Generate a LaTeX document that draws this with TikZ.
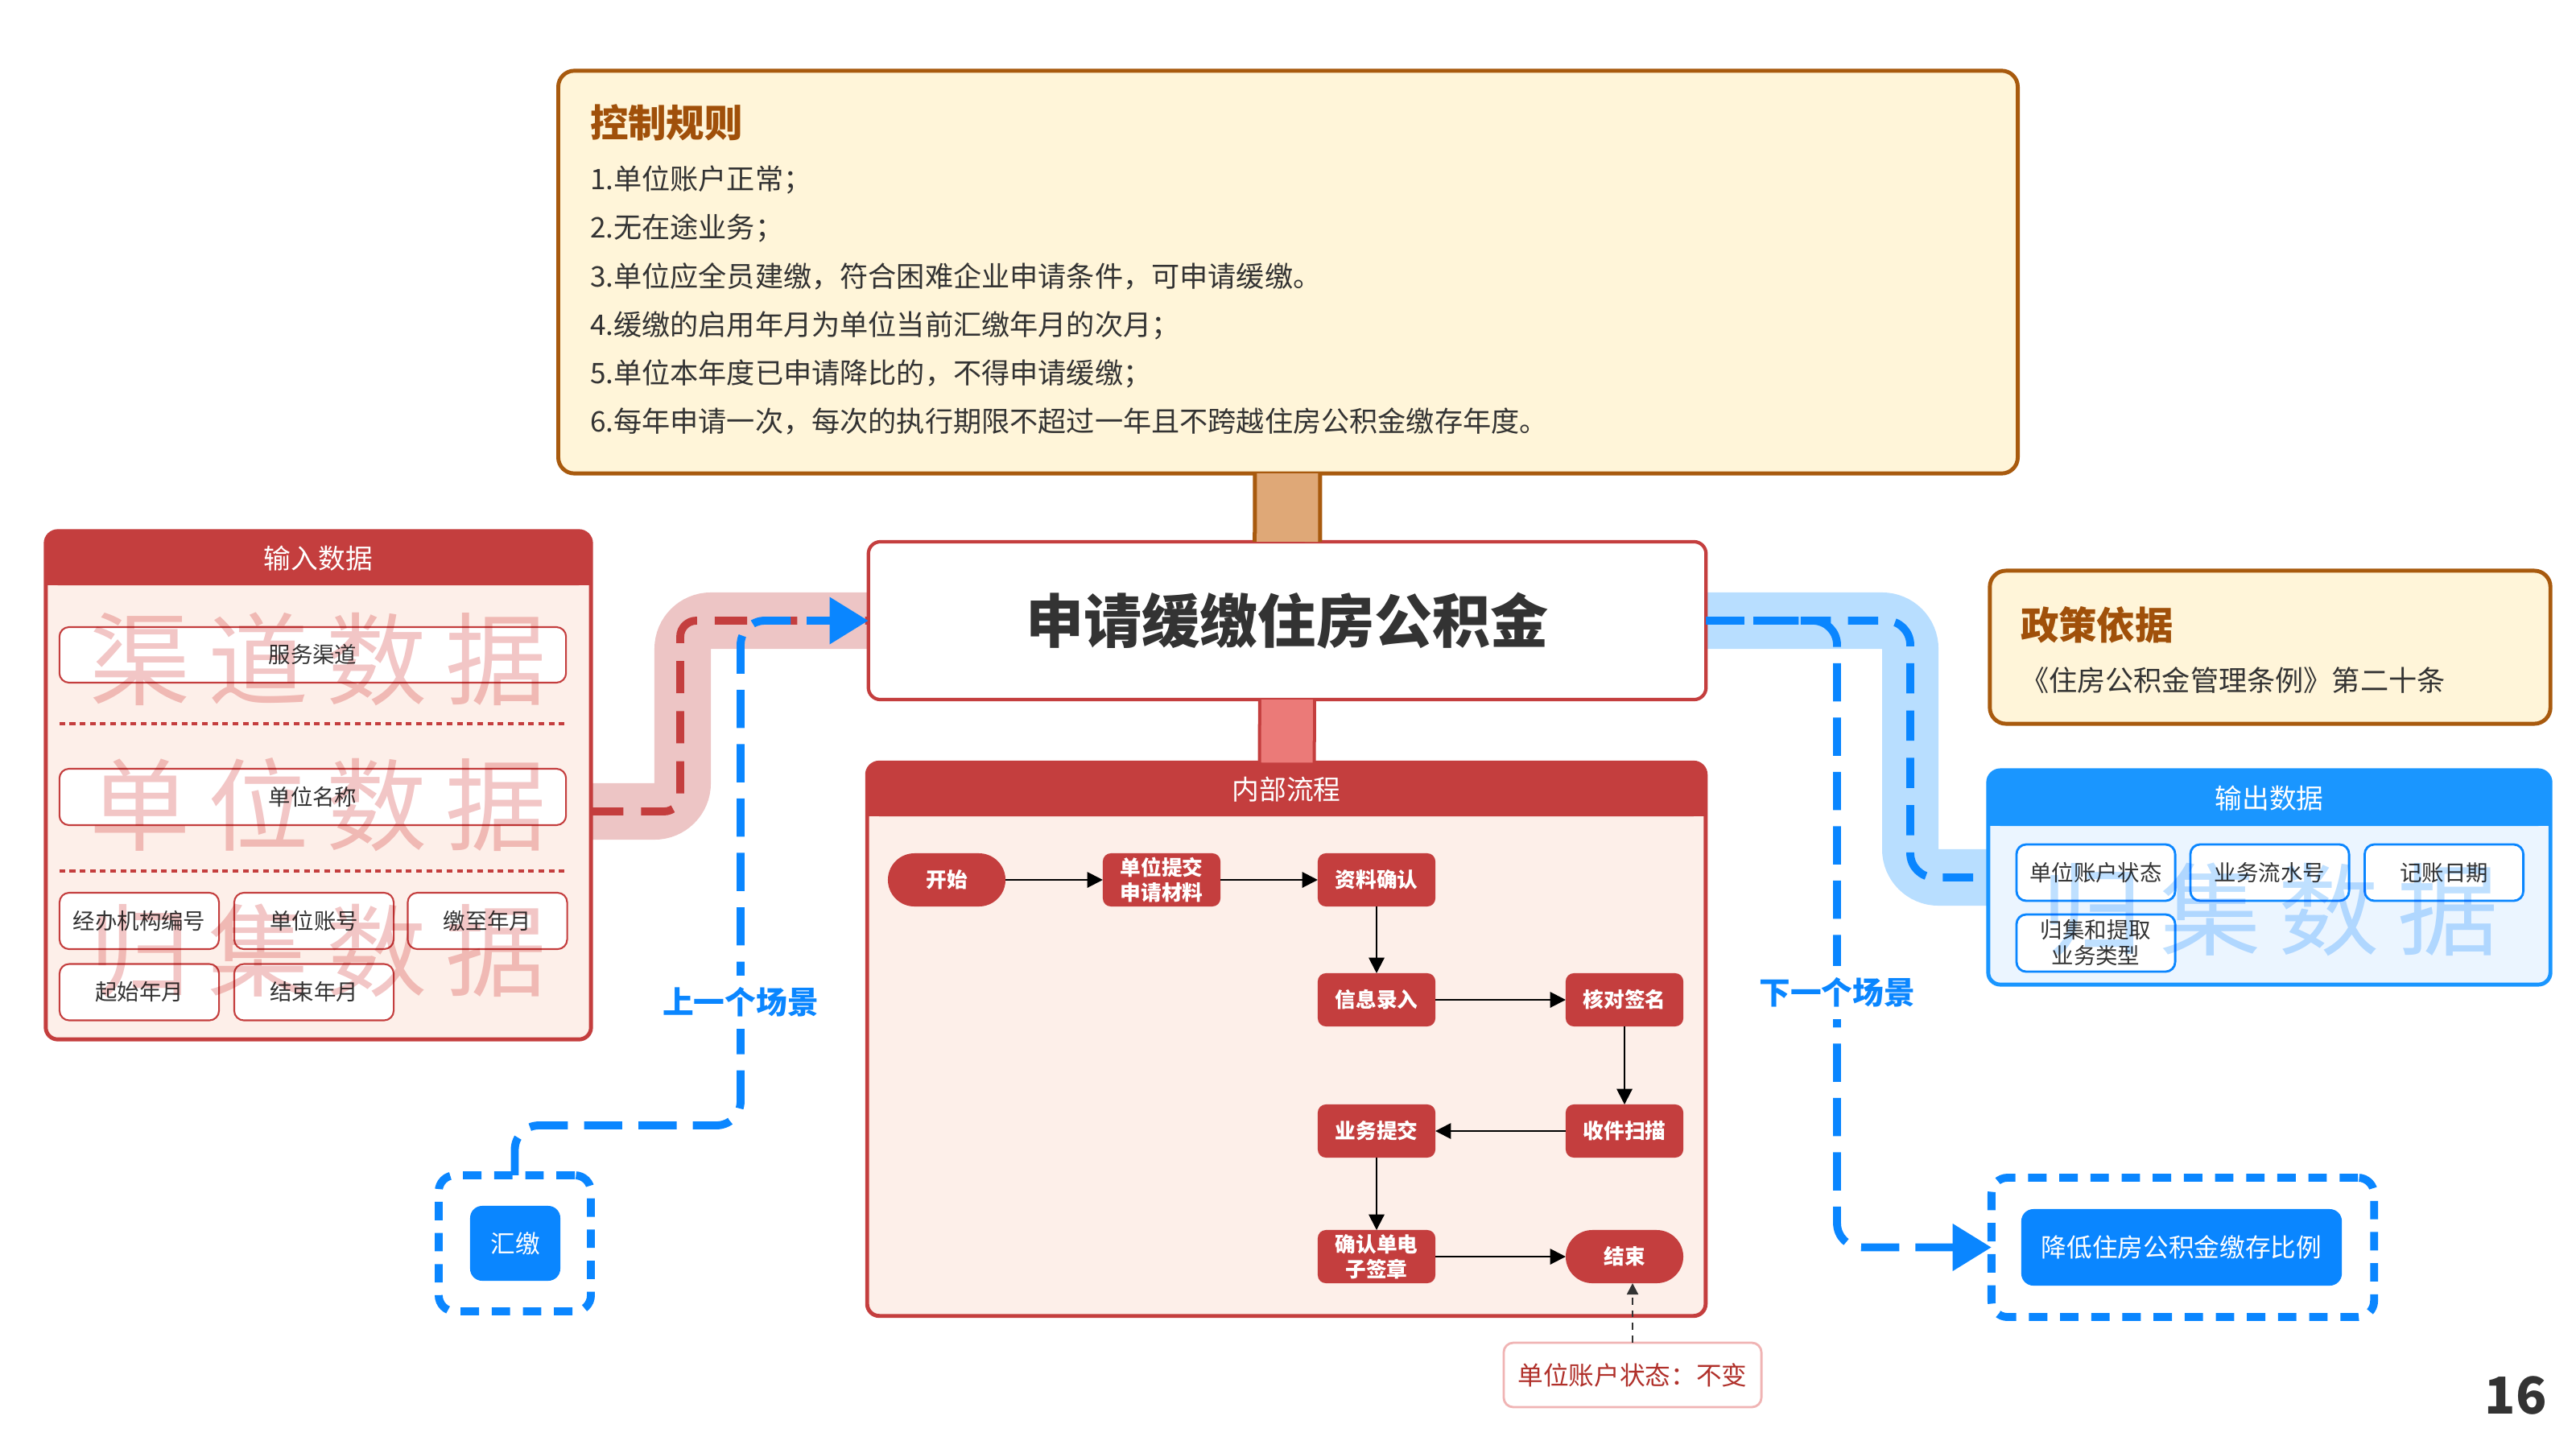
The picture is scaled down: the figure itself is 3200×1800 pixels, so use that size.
\documentclass[tikz,border=0pt]{standalone}
\usepackage{fontspec}
\setmainfont{Noto Sans CJK SC}
\usetikzlibrary{arrows.meta}
\pgfdeclarelayer{background}
\pgfsetlayers{background,main}
\definecolor{cred}{HTML}{C43E3E}
\definecolor{cpink}{HTML}{FDEFE9}
\definecolor{cband}{HTML}{EDC5C5}
\definecolor{cmark}{HTML}{F2C6C6}
\definecolor{cyel}{HTML}{FFF5D9}
\definecolor{cbrown}{HTML}{A85A0E}
\definecolor{ctitle}{HTML}{A0500A}
\definecolor{ctan}{HTML}{DFA877}
\definecolor{clink}{HTML}{EB7A78}
\definecolor{cblue}{HTML}{0A86FF}
\definecolor{chead}{HTML}{1A96FF}
\definecolor{cbband}{HTML}{B8DEFF}
\definecolor{cbbody}{HTML}{EBF5FF}
\definecolor{cbmark}{HTML}{BFE0FF}
\definecolor{cdark}{HTML}{333333}
\definecolor{cnote}{HTML}{B0302A}
\definecolor{cnoteline}{HTML}{F0B4B4}
\begin{document}
\begin{tikzpicture}[x=0.01cm,y=-0.01cm,>={Triangle[length=5.5pt,width=5.5pt]},line join=round,
  every node/.style={inner sep=0pt,outer sep=0pt},
  framebox/.style={draw=cred,line width=1.4pt,fill=cpink,rounded corners=0.15cm},
  headtext/.style={text=white,font=\fontsize{9.6}{11}\selectfont},
  databox/.style={draw=cred,fill=white,line width=0.6pt,rounded corners=0.12cm,text=cdark,
    minimum width=1.98cm,minimum height=0.70cm,font=\fontsize{7.8}{9}\selectfont},
  outbox/.style={databox,draw=cblue,line width=0.8pt,minimum width=1.97cm,align=center,
    font=\fontsize{7.8}{9.1}\selectfont},
  flowstep/.style={fill=cred,text=white,rounded corners=0.1cm,minimum width=1.46cm,
    minimum height=0.66cm,align=center,font=\fontsize{7.3}{8.7}\selectfont\bfseries},
  flowend/.style={flowstep,rounded corners=0.33cm},
  watermark/.style={text=cmark,font=\fontsize{35.6}{40}\selectfont},
  yellowbox/.style={draw=cbrown,line width=1.4pt,fill=cyel,rounded corners=0.2cm},
  boldtitle/.style={anchor=west,text=ctitle,font=\fontsize{13.5}{16}\selectfont\bfseries},
  scenedash/.style={cblue,line width=2.8pt,dash pattern=on 13.5pt off 5.7pt,rounded corners=0.3cm},
  scenebox/.style={draw=cblue,line width=2.8pt,dash pattern=on 6.5pt off 4.5pt,rounded corners=0.2cm},
  scenenode/.style={fill=cblue,text=white,rounded corners=0.15cm},
  scenelabel/.style={fill=white,inner sep=0.15cm,text=cblue,font=\fontsize{11}{13}\selectfont\bfseries},
  bigtip/.style={-{Triangle[length=13.7pt,width=16pt]}},
]
\useasboundingbox (0,0) rectangle (3200,1800);
%% control rules
\node (rule_box) at (1600,338) [yellowbox,minimum width=18.12cm,minimum height=5.00cm] {};
\node (rule_title) at (733,152) [boldtitle] {控制规则};
\node (rule_text) at (733,373) [anchor=west,align=left,text=cdark,font=\fontsize{10}{17.07}\selectfont]
  {1.单位账户正常；\\2.无在途业务；\\3.单位应全员建缴，符合困难企业申请条件，可申请缓缴。\\4.缓缴的启用年月为单位当前汇缴年月的次月；\\5.单位本年度已申请降比的，不得申请缓缴；\\6.每年申请一次，每次的执行期限不超过一年且不跨越住房公积金缴存年度。};
%% scene
\node (apply_box) at (1599,771) [draw=cred,line width=1.2pt,fill=white,rounded corners=0.15cm,
  minimum width=10.40cm,minimum height=1.96cm,text=cdark,font=\fontsize{20.5}{24}\selectfont\bfseries] {申请缓缴住房公积金};
\draw [cbrown,line width=0.86cm] (rule_box) -- (apply_box);
\draw [ctan,line width=0.76cm] (rule_box) -- (apply_box);
%% internal flow
\node (flow_box) at (1598,1291) [framebox,minimum width=10.41cm,minimum height=6.87cm] {};
\fill [cred,rounded corners=0.15cm] (flow_box.north west) rectangle (flow_box.east |- 0,1014);
\fill [cred] (flow_box.west |- 0,990) rectangle (flow_box.east |- 0,1014);
\node (flow_title) at (1598,981) [headtext] {内部流程};
\draw [cred,line width=0.72cm] (apply_box) -- (flow_box);
\draw [clink,line width=0.64cm] (apply_box) -- (flow_box);
\node (step_start) at (1176,1093) [flowend] {开始};
\node (step_submit) at (1443,1093) [flowstep] {单位提交\\申请材料};
\node (step_check) at (1710,1093) [flowstep] {资料确认};
\node (step_entry) at (1710,1242) [flowstep] {信息录入};
\node (step_sign) at (2018,1242) [flowstep] {核对签名};
\node (step_scan) at (2018,1405) [flowstep] {收件扫描};
\node (step_commit) at (1710,1405) [flowstep] {业务提交};
\node (step_seal) at (1710,1561) [flowstep] {确认单电\\子签章};
\node (step_end) at (2018,1561) [flowend] {结束};
\draw [black,->,line width=0.6pt] (step_start) -- (step_submit);
\draw [black,->,line width=0.6pt] (step_submit) -- (step_check);
\draw [black,->,line width=0.6pt] (step_check) -- (step_entry);
\draw [black,->,line width=0.6pt] (step_entry) -- (step_sign);
\draw [black,->,line width=0.6pt] (step_sign) -- (step_scan);
\draw [black,->,line width=0.6pt] (step_scan) -- (step_commit);
\draw [black,->,line width=0.6pt] (step_commit) -- (step_seal);
\draw [black,->,line width=0.6pt] (step_seal) -- (step_end);
\node (state_note) at (2028,1708) [draw=cnoteline,line width=0.8pt,fill=white,rounded corners=0.12cm,
  minimum width=3.2cm,minimum height=0.8cm,text=cnote,font=\fontsize{9}{11}\selectfont] {单位账户状态：不变};
\draw [cdark,line width=0.6pt,dash pattern=on 2.5pt off 2pt,-{Triangle[length=4pt,width=4pt]}]
  (state_note.north) -- (state_note.north |- step_end.south);
%% input data
\node (input_box) at (395.5,975.5) [framebox,minimum width=6.77cm,minimum height=6.31cm] {};
\fill [cred,rounded corners=0.15cm] (input_box.north west) rectangle (input_box.east |- 0,727);
\fill [cred] (input_box.west |- 0,700) rectangle (input_box.east |- 0,727);
\node (input_title) at (395.5,693.5) [headtext] {输入数据};
\node (item_channel) at (388.5,813.5) [databox,minimum width=6.29cm,minimum height=0.69cm] {服务渠道};
\node (item_name) at (388.5,990) [databox,minimum width=6.29cm] {单位名称};
\node (item_agency) at (173,1144) [databox] {经办机构编号};
\node (item_account) at (390,1144) [databox] {单位账号};
\node (item_payto) at (605.5,1144) [databox] {缴至年月};
\node (item_begin) at (173,1232.5) [databox] {起始年月};
\node (item_end) at (390,1232.5) [databox] {结束年月};
\draw [cred,line width=1.2pt,dash pattern=on 2pt off 1.6pt] (item_channel.west |- 0,899) -- (item_channel.east |- 0,899);
\draw [cred,line width=1.2pt,dash pattern=on 2pt off 1.6pt] (item_name.west |- 0,1082) -- (item_name.east |- 0,1082);
%% policy
\node (policy_box) at (2820,804) [yellowbox,minimum width=6.96cm,minimum height=1.90cm] {};
\node (policy_title) at (2510,776) [boldtitle] {政策依据};
\node (policy_text) at (2510,845) [anchor=west,text=cdark,font=\fontsize{10}{12}\selectfont] {《住房公积金管理条例》第二十条};
%% output data
\node (output_box) at (2819,1090) [framebox,draw=chead,fill=cbbody,minimum width=6.98cm,minimum height=2.66cm] {};
\fill [chead,rounded corners=0.15cm] (output_box.north west) rectangle (output_box.east |- 0,1026);
\fill [chead] (output_box.west |- 0,1000) rectangle (output_box.east |- 0,1026);
\node (output_title) at (2819,991.5) [headtext] {输出数据};
\node (out_state) at (2603.5,1084) [outbox] {单位账户状态};
\node (out_serial) at (2819.5,1084) [outbox] {业务流水号};
\node (out_date) at (3036,1084) [outbox] {记账日期};
\node (out_type) at (2603.5,1171.5) [outbox,minimum height=0.71cm] {归集和提取\\业务类型};
%% watermarks
\begin{scope}[blend mode=multiply]
\node (mark_channel) at (395,819) [watermark] {渠\hspace{6.3pt}道\hspace{6.3pt}数\hspace{6.3pt}据};
\node (mark_unit) at (395,1000) [watermark] {单\hspace{6.3pt}位\hspace{6.3pt}数\hspace{6.3pt}据};
\node (mark_collect) at (395,1181) [watermark] {归\hspace{6.3pt}集\hspace{6.3pt}数\hspace{6.3pt}据};
\node (mark_output) at (2820,1130) [watermark,text=cbmark] {归\hspace{6.3pt}集\hspace{6.3pt}数\hspace{6.3pt}据};
\end{scope}
%% previous and next scene
\node (prev_box) at (639.5,1544.5) [scenebox,minimum width=1.89cm,minimum height=1.69cm] {};
\node (pay_node) at (640,1544.5) [scenenode,minimum width=1.12cm,minimum height=0.93cm,font=\fontsize{8.7}{10}\selectfont] {汇缴};
\node (next_box) at (2711.5,1549.5) [scenebox,minimum width=4.75cm,minimum height=1.73cm] {};
\node (lower_node) at (2710,1549.5) [scenenode,minimum width=3.98cm,minimum height=0.95cm,font=\fontsize{9}{11}\selectfont] {降低住房公积金缴存比例};
\begin{pgfonlayer}{background}
\draw [cband,line width=0.70cm,rounded corners=0.35cm] (input_box.east |- 0,1008) -- (848,1008) -- (848,771) -- (apply_box.west);
\draw [cbband,line width=0.70cm,rounded corners=0.35cm] (apply_box.east) -- (2373,771) -- (2373,1090) -- (output_box.west);
\end{pgfonlayer}
\draw [cred,line width=2.8pt,dash pattern=on 11.4pt off 6.3pt,rounded corners=0.2cm] (input_box.east |- 0,1008) -- (845,1008) -- (845,771) -- (apply_box.west);
\draw [scenedash,bigtip] (prev_box.north) -- (prev_box.north |- 0,1398) -- (920,1398) -- (920,771) -- (apply_box.west);
\draw [scenedash,dash pattern=on 10.7pt off 6pt] (apply_box.east) -- (2373,771) -- (2373,1090) -- (output_box.west);
\draw [scenedash,bigtip] (apply_box.east) -- (2282,771) -- (2282,1549.5) -- (next_box.west);
\node (prev_label) at (920,1245) [scenelabel] {上一个场景};
\node (next_label) at (2282,1233) [scenelabel] {下一个场景};
%
\node (page_no) at (3125,1734) [text=cdark,font=\fontsize{18}{20}\selectfont\bfseries] {16};
\end{tikzpicture}
\end{document}
